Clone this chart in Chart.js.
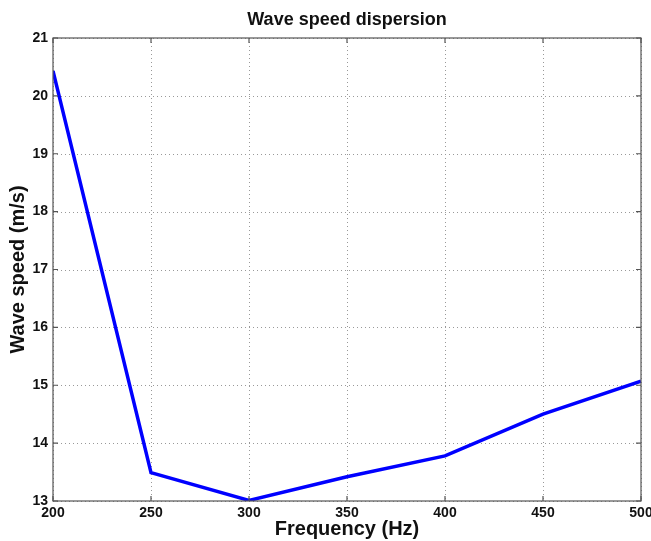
<!DOCTYPE html>
<html>
<head>
<meta charset="utf-8">
<script src="https://cdn.jsdelivr.net/npm/chart.js@4/dist/chart.umd.min.js"></script>
<style>
  html, body { margin: 0; padding: 0; background: #fff; }
  #wrap { width: 651px; height: 541px; }
</style>
</head>
<body>
<div id="wrap"><canvas id="waveChart" width="651" height="541"></canvas></div>
<script>
// datos
const frequencies = [200, 250, 300, 350, 400, 450, 500];
const waveSpeeds = [20.43, 13.49, 13.01, 13.42, 13.78, 14.50, 15.07];
const xTicks = [200, 250, 300, 350, 400, 450, 500];
const yTicks = [13, 14, 15, 16, 17, 18, 19, 20, 21];
const chartTitle = 'Wave speed dispersion';

const fontFamily = 'Arial, "Liberation Sans", Helvetica, sans-serif';

// rejilla punteada por debajo de la linea
const gridPlugin = {
    id: 'dottedGrid',
    beforeDatasetsDraw(chart) {
        const ctx = chart.ctx;
        const a = chart.chartArea;
        const xs = chart.scales.x;
        const ys = chart.scales.y;
        ctx.save();
        ctx.strokeStyle = '#999';
        ctx.lineWidth = 1;
        ctx.setLineDash([1, 3]);
        ctx.beginPath();
        xTicks.forEach(v => {
            const px = Math.round(xs.getPixelForValue(v)) + 0.5;
            ctx.moveTo(px, a.top); ctx.lineTo(px, a.bottom);
        });
        yTicks.forEach(v => {
            const py = Math.round(ys.getPixelForValue(v)) + 0.5;
            ctx.moveTo(a.left, py); ctx.lineTo(a.right, py);
        });
        ctx.stroke();
        ctx.restore();
    }
};

// marco tipo matlab: borde completo, marcas hacia dentro y titulo centrado en el area
const framePlugin = {
    id: 'frame',
    afterDatasetsDraw(chart) {
        const ctx = chart.ctx;
        const a = chart.chartArea;
        const xs = chart.scales.x;
        const ys = chart.scales.y;
        ctx.save();
        ctx.strokeStyle = '#555';
        ctx.lineWidth = 1.2;
        ctx.beginPath();
        xTicks.forEach(v => {
            const px = xs.getPixelForValue(v);
            ctx.moveTo(px, a.bottom); ctx.lineTo(px, a.bottom - 5);
            ctx.moveTo(px, a.top); ctx.lineTo(px, a.top + 5);
        });
        yTicks.forEach(v => {
            const py = ys.getPixelForValue(v);
            ctx.moveTo(a.left, py); ctx.lineTo(a.left + 5, py);
            ctx.moveTo(a.right, py); ctx.lineTo(a.right - 5, py);
        });
        ctx.stroke();
        ctx.strokeRect(a.left, a.top, a.right - a.left, a.bottom - a.top);

        ctx.fillStyle = '#111';
        ctx.font = 'bold 18px ' + fontFamily;
        ctx.textAlign = 'center';
        ctx.textBaseline = 'middle';
        ctx.fillText(chartTitle, (a.left + a.right) / 2, 20);
        ctx.restore();
    }
};

const ctx = document.getElementById('waveChart').getContext('2d');

new Chart(ctx, {
    type: 'line',
    data: {
        datasets: [{
            data: frequencies.map((f, i) => ({ x: f, y: waveSpeeds[i] })),
            borderColor: '#0000ff',
            borderWidth: 3.5,
            pointRadius: 0,
            fill: false,
            tension: 0
        }]
    },
    options: {
        responsive: false,
        animation: false,
        devicePixelRatio: 1,
        layout: { padding: { left: 0, right: 10, top: 38, bottom: 0 } },
        plugins: {
            legend: { display: false },
            tooltip: { enabled: false },
            title: { display: false }
        },
        scales: {
            x: {
                type: 'linear',
                min: 200,
                max: 500,
                afterBuildTicks: scale => { scale.ticks = xTicks.map(v => ({ value: v })); },
                afterFit: scale => {
                    scale.height = 40;
                    scale.paddingLeft = 0;
                    scale.paddingRight = 0;
                },
                grid: { display: false, drawTicks: false },
                border: { display: false },
                ticks: {
                    color: '#111',
                    padding: 4,
                    maxRotation: 0,
                    font: { family: fontFamily, size: 14, weight: 'bold' }
                },
                title: {
                    display: true,
                    text: 'Frequency (Hz)',
                    color: '#111',
                    padding: { top: 0, bottom: 0 },
                    font: { family: fontFamily, size: 20, weight: 'bold' }
                }
            },
            y: {
                min: 13,
                max: 21,
                afterBuildTicks: scale => { scale.ticks = yTicks.map(v => ({ value: v })); },
                afterFit: scale => {
                    scale.width = 53;
                    scale.paddingTop = 0;
                    scale.paddingBottom = 0;
                },
                grid: { display: false, drawTicks: false },
                border: { display: false },
                ticks: {
                    color: '#111',
                    padding: 5,
                    font: { family: fontFamily, size: 14, weight: 'bold' }
                },
                title: {
                    display: true,
                    text: 'Wave speed (m/s)',
                    color: '#111',
                    padding: { top: 6, bottom: 0 },
                    font: { family: fontFamily, size: 20, weight: 'bold' }
                }
            }
        }
    },
    plugins: [gridPlugin, framePlugin]
});
</script>
</body>
</html>
